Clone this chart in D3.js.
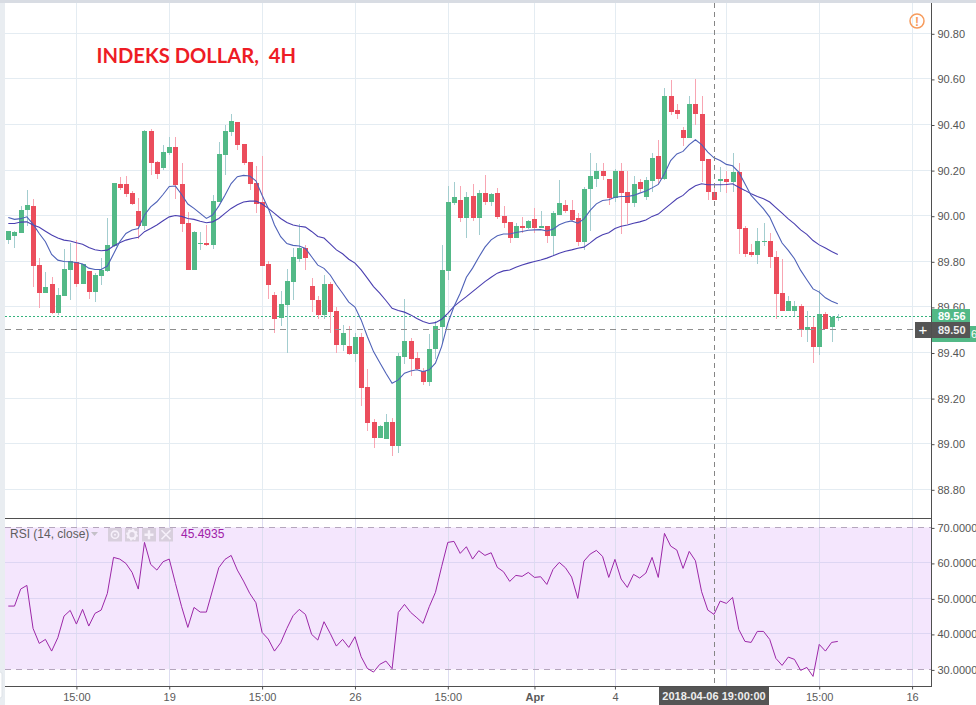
<!DOCTYPE html>
<html><head><meta charset="utf-8">
<style>html,body{margin:0;padding:0;background:#fff;overflow:hidden}svg{display:block}text{font-family:"Liberation Sans",Arial,sans-serif}</style>
<script src="https://cdn.jsdelivr.net/npm/d3@7"></script></head><body><svg id="c" width="976" height="705"></svg>
<script>
const opens=[89.893,89.911,89.924,90.025,90.042,89.783,89.661,89.700,89.573,89.647,89.761,89.796,89.700,89.757,89.665,89.735,89.757,89.867,90.139,90.139,90.099,90.020,89.954,90.371,90.235,90.209,90.275,90.301,90.139,89.968,89.761,89.877,89.880,89.871,90.060,90.266,90.367,90.411,90.314,90.235,90.143,90.060,89.788,89.652,89.551,89.608,89.709,89.810,89.858,89.691,89.630,89.565,89.701,89.583,89.433,89.429,89.394,89.469,89.249,89.096,89.026,89.021,89.096,88.990,89.381,89.451,89.376,89.319,89.271,89.416,89.512,89.758,90.056,90.069,89.990,90.087,89.990,90.100,90.061,90.100,89.999,89.973,89.903,89.955,89.947,89.986,89.947,89.955,89.912,90.001,90.049,90.023,89.988,89.883,90.115,90.163,90.198,90.163,90.076,90.198,90.102,90.054,90.146,90.084,90.150,90.260,90.159,90.527,90.462,90.374,90.339,90.492,90.448,90.247,90.106,90.150,90.163,90.146,90.190,89.944,89.839,89.826,89.887,89.891,89.821,89.663,89.584,89.580,89.606,89.497,89.510,89.422,89.571,89.510,89.552];
const highs=[89.932,89.932,90.042,90.112,90.073,89.814,89.753,89.731,89.682,89.853,89.880,89.893,89.788,89.757,89.748,89.814,89.989,90.143,90.169,90.174,90.108,90.077,90.375,90.380,90.239,90.310,90.345,90.345,90.231,90.016,89.932,89.928,89.959,90.090,90.323,90.397,90.446,90.411,90.314,90.235,90.218,90.261,89.801,89.665,89.669,89.766,89.858,89.963,89.871,89.726,89.647,89.740,89.710,89.600,89.521,89.517,89.486,89.486,89.328,89.109,89.083,89.131,89.113,89.398,89.635,89.464,89.403,89.333,89.482,89.539,89.872,90.131,90.148,90.131,90.105,90.140,90.113,90.179,90.100,90.122,90.043,89.973,89.969,89.995,89.982,90.034,90.021,89.955,90.021,90.155,90.071,90.071,90.014,90.124,90.277,90.233,90.233,90.163,90.207,90.229,90.194,90.176,90.159,90.168,90.277,90.334,90.562,90.593,90.488,90.387,90.523,90.598,90.523,90.247,90.141,90.212,90.194,90.273,90.229,89.957,89.874,89.948,89.970,89.926,89.843,89.808,89.646,89.628,89.611,89.580,89.554,89.672,89.576,89.558,89.567];
const lows=[89.875,89.858,89.924,89.954,89.687,89.595,89.661,89.568,89.564,89.647,89.630,89.687,89.700,89.634,89.621,89.696,89.753,89.862,90.112,90.082,90.046,89.897,89.937,90.178,90.161,90.200,90.266,90.073,89.928,89.761,89.761,89.849,89.867,89.853,90.060,90.178,90.349,90.288,90.222,90.112,90.011,89.779,89.634,89.485,89.516,89.397,89.630,89.796,89.761,89.577,89.546,89.547,89.486,89.398,89.407,89.390,89.359,89.166,89.056,88.982,89.026,89.021,88.947,88.960,89.350,89.297,89.324,89.258,89.254,89.372,89.438,89.719,90.047,89.973,89.903,89.977,89.916,90.047,90.043,89.986,89.947,89.881,89.903,89.925,89.942,89.925,89.947,89.881,89.828,90.001,90.010,89.975,89.869,89.848,89.935,90.124,90.155,90.049,90.062,89.918,89.962,90.036,90.106,90.071,90.106,90.137,90.155,90.440,90.426,90.304,90.339,90.400,90.146,90.071,90.067,90.102,90.098,90.106,89.834,89.817,89.821,89.786,89.869,89.769,89.545,89.584,89.584,89.558,89.470,89.444,89.356,89.391,89.505,89.444,89.540];
const closes=[89.932,89.928,90.025,90.046,89.779,89.661,89.687,89.573,89.652,89.766,89.801,89.700,89.788,89.665,89.739,89.761,89.871,90.143,90.121,90.095,90.051,89.954,90.371,90.231,90.182,90.279,90.301,90.134,89.963,89.761,89.928,89.880,89.871,90.064,90.270,90.371,90.415,90.310,90.231,90.139,90.051,89.779,89.696,89.546,89.612,89.713,89.818,89.858,89.814,89.630,89.564,89.701,89.578,89.433,89.486,89.394,89.469,89.245,89.091,89.026,89.078,89.096,88.990,89.385,89.451,89.372,89.328,89.271,89.416,89.517,89.762,90.061,90.083,89.990,90.083,89.990,90.100,90.061,90.096,89.995,89.969,89.903,89.955,89.947,89.977,89.947,89.955,89.912,90.012,90.054,90.019,89.983,89.883,90.119,90.172,90.198,90.172,90.076,90.198,90.098,90.054,90.141,90.115,90.155,90.255,90.159,90.527,90.457,90.444,90.339,90.492,90.444,90.242,90.102,90.067,90.163,90.146,90.190,89.940,89.834,89.826,89.891,89.891,89.817,89.655,89.584,89.624,89.606,89.497,89.514,89.422,89.567,89.505,89.554,89.555];
const maFast=[89.992,89.984,89.987,89.995,89.963,89.922,89.886,89.830,89.805,89.799,89.798,89.795,89.788,89.770,89.764,89.764,89.779,89.832,89.886,89.922,89.937,89.944,90.003,90.039,90.061,90.093,90.128,90.130,90.093,90.051,90.032,90.010,89.988,90.003,90.042,90.090,90.141,90.171,90.177,90.174,90.153,90.090,90.032,89.959,89.908,89.878,89.870,89.867,89.856,89.820,89.783,89.769,89.740,89.697,89.660,89.621,89.599,89.543,89.470,89.404,89.356,89.309,89.265,89.280,89.309,89.319,89.324,89.316,89.324,89.353,89.426,89.528,89.602,89.660,89.730,89.770,89.818,89.862,89.894,89.912,89.920,89.920,89.926,89.931,89.936,89.938,89.939,89.933,89.941,89.960,89.971,89.977,89.967,89.986,90.023,90.052,90.067,90.070,90.081,90.084,90.084,90.089,90.099,90.108,90.122,90.137,90.184,90.242,90.271,90.282,90.312,90.333,90.312,90.279,90.254,90.242,90.225,90.219,90.191,90.140,90.089,90.060,90.030,89.994,89.935,89.880,89.848,89.811,89.760,89.719,89.679,89.665,89.640,89.625,89.614];
const maSlow=[89.966,89.966,89.972,89.973,89.959,89.949,89.932,89.915,89.902,89.893,89.889,89.881,89.875,89.861,89.851,89.846,89.849,89.867,89.881,89.893,89.900,89.905,89.930,89.944,89.959,89.978,89.995,90.001,89.997,89.988,89.984,89.976,89.969,89.973,89.988,90.010,90.032,90.048,90.060,90.064,90.064,90.051,90.032,90.010,89.988,89.970,89.959,89.954,89.950,89.931,89.909,89.902,89.876,89.850,89.833,89.809,89.792,89.762,89.726,89.689,89.660,89.628,89.594,89.584,89.577,89.565,89.549,89.536,89.527,89.531,89.546,89.572,89.602,89.624,89.645,89.667,89.689,89.711,89.730,89.748,89.758,89.762,89.774,89.784,89.792,89.799,89.806,89.814,89.824,89.835,89.844,89.850,89.857,89.862,89.881,89.902,89.916,89.925,89.944,89.954,89.959,89.967,89.973,89.981,89.997,90.007,90.030,90.052,90.074,90.089,90.114,90.131,90.140,90.136,90.136,90.136,90.137,90.140,90.125,90.111,90.096,90.084,90.074,90.060,90.035,90.011,89.986,89.964,89.938,89.918,89.891,89.872,89.858,89.843,89.830];
const rsi=[47.84,47.84,52.63,53.66,41.55,37.32,38.45,35.16,38.92,45.02,46.62,42.77,46.90,42.21,45.77,46.71,51.41,61.55,61.08,59.86,57.32,52.63,65.77,59.58,57.98,60.33,61.08,54.22,47.65,41.83,47.46,46.15,46.15,52.35,58.64,60.99,62.11,57.98,54.88,51.41,48.78,40.42,38.54,35.16,37.51,41.55,45.12,46.90,45.49,39.86,38.26,43.43,40.14,36.57,38.45,36.20,39.20,33.57,30.28,29.25,31.41,32.35,30.19,46.06,48.31,46.06,44.55,42.96,47.65,51.69,58.92,65.77,66.06,62.68,64.55,61.08,63.43,62.11,62.86,58.73,57.51,54.79,56.48,56.20,57.32,55.91,56.10,53.94,58.17,60.14,58.64,56.01,50.00,60.52,62.49,63.52,61.83,55.91,60.99,55.45,53.10,56.76,55.73,57.14,61.55,55.91,68.31,64.74,63.61,58.45,63.24,60.61,51.88,46.71,45.49,49.25,48.59,50.28,41.27,37.89,37.60,40.70,40.70,38.45,33.10,31.13,33.47,32.82,29.72,30.56,28.03,37.04,35.16,37.60,37.89];
const priceTicks=[88.8,89.0,89.2,89.4,89.6,89.8,90.0,90.2,90.4,90.6,90.8];
const rsiTicks=[30,40,50,60,70];
const timeTickIdx=[11,26,41,56,71,85,98,116,131,146];
const timeTickLabels=["15:00","19","15:00","26","15:00","Apr","4","","15:00","16"];
const boldLabels=["Apr"];
const crossIdx=114, crossPrice=89.50, lastPrice=89.56, rsiRef=45.4935;
const crossTime="2018-04-06 19:00:00";
const titleText="INDEKS DOLLAR,  4H";

const svg=d3.select("#c");
const paneL=5,paneR=931;
const x=d3.scaleLinear().domain([0,134]).range([8.3,837.8]);
const y=d3.scaleLinear().domain([88.8,90.8]).range([489.3,33.3]);
const yR=d3.scaleLinear().domain([30,70]).range([669.4,527.4]);
const px=v=>Math.round(x(v));
const crisp=v=>Math.floor(v)+.5;
// chrome
svg.append("rect").attr("x",0).attr("y",0).attr("width",976).attr("height",705).attr("fill","#fff");
svg.append("rect").attr("x",0).attr("y",0).attr("width",5).attr("height",705).attr("fill","#e9edf1");
svg.append("rect").attr("x",-3).attr("y",672).attr("width",5).attr("height",26).attr("rx",2).attr("fill","#fff").attr("stroke","#dfe3e8");
svg.append("rect").attr("x",0).attr("y",0).attr("width",976).attr("height",3).attr("fill","#d8dce3");
// RSI band
svg.append("rect").attr("x",paneL).attr("y",yR(70)).attr("width",paneR-paneL).attr("height",yR(30)-yR(70)).attr("fill","#f4e6fd");
// grid
svg.append("g").selectAll("line").data(priceTicks).join("line")
 .attr("x1",paneL).attr("x2",paneR).attr("y1",d=>crisp(y(d))).attr("y2",d=>crisp(y(d))).attr("stroke","#e4ecf2");
svg.append("g").selectAll("line").data(timeTickIdx).join("line")
 .attr("x1",d=>px(d)+.5).attr("x2",d=>px(d)+.5).attr("y1",3).attr("y2",519).attr("stroke","#e4ecf2");
svg.append("g").selectAll("line").data(timeTickIdx).join("line")
 .attr("x1",d=>px(d)+.5).attr("x2",d=>px(d)+.5).attr("y1",519).attr("y2",686).attr("stroke","#ddddf0");
svg.append("g").selectAll("line").data(rsiTicks.slice(1,4)).join("line")
 .attr("x1",paneL).attr("x2",paneR).attr("y1",d=>crisp(yR(d))).attr("y2",d=>crisp(yR(d))).attr("stroke","#ddd6f3");
// lines levels
svg.append("line").attr("x1",paneL).attr("x2",paneR).attr("y1",crisp(y(lastPrice))).attr("y2",crisp(y(lastPrice))).attr("stroke","#35b37e").attr("stroke-dasharray","2,2");
// candles
const idx=d3.range(opens.length);
const col=i=>closes[i]>=opens[i];
svg.append("g").attr("shape-rendering","crispEdges").selectAll("rect").data(idx).join("rect")
 .attr("x",i=>px(i)).attr("width",1).attr("y",i=>y(highs[i])).attr("height",i=>y(lows[i])-y(highs[i]))
 .attr("fill",i=>col(i)?"#a3cdcf":"#f8a5b2");
svg.append("g").attr("shape-rendering","crispEdges").selectAll("rect").data(idx).join("rect")
 .attr("x",i=>px(i)-2).attr("width",5)
 .attr("y",i=>Math.round(y(Math.max(opens[i],closes[i]))))
 .attr("height",i=>Math.max(1,Math.round(y(Math.min(opens[i],closes[i])))-Math.round(y(Math.max(opens[i],closes[i])))))
 .attr("fill",i=>col(i)?"#53b987":"#eb4d5c");
// MAs
const lineP=d3.line().x((d,i)=>x(i)).y(d=>y(d));
svg.append("path").attr("d",lineP(maSlow)).attr("fill","none").attr("stroke","#4a3fb0").attr("stroke-width",1.1);
svg.append("path").attr("d",lineP(maFast)).attr("fill","none").attr("stroke","#4f62b8").attr("stroke-width",1.1);
// RSI
svg.append("g").selectAll("line").data([70,30]).join("line")
 .attr("x1",paneL).attr("x2",paneR).attr("y1",d=>crisp(yR(d))).attr("y2",d=>crisp(yR(d))).attr("stroke","#b5a6bd").attr("stroke-dasharray","6,5");
svg.append("path").attr("d",d3.line().x((d,i)=>x(i)).y(d=>yR(d))(rsi)).attr("fill","none").attr("stroke","#9c27a8").attr("stroke-width",1);
// crosshair
svg.append("line").attr("x1",px(crossIdx)+.5).attr("x2",px(crossIdx)+.5).attr("y1",3).attr("y2",686).attr("stroke","#858585").attr("stroke-dasharray","5,4");
svg.append("line").attr("x1",paneL).attr("x2",915).attr("y1",crisp(y(crossPrice))).attr("y2",crisp(y(crossPrice))).attr("stroke","#8f8f8f").attr("stroke-dasharray","6,5");
// frame
svg.append("line").attr("x1",paneL).attr("x2",932).attr("y1",518.5).attr("y2",518.5).attr("stroke","#4f4f4f");
svg.append("line").attr("x1",paneL).attr("x2",932).attr("y1",686.5).attr("y2",686.5).attr("stroke","#4f4f4f");
svg.append("line").attr("x1",931.5).attr("x2",931.5).attr("y1",3).attr("y2",687).attr("stroke","#4f4f4f");
// axes
const axisG=svg.append("g").attr("transform","translate(931.5,0)");
axisG.call(d3.axisRight(d3.scaleLinear().domain([88.8,90.8]).range([489.8,33.8])).tickValues(priceTicks).tickSize(3).tickPadding(3).tickFormat(d3.format(".2f")));
axisG.select(".domain").remove();
const rsiG=svg.append("g").attr("transform","translate(931.5,0)");
rsiG.call(d3.axisRight(d3.scaleLinear().domain([30,70]).range([669.9,527.9])).tickValues(rsiTicks).tickSize(3).tickPadding(3).tickFormat(d3.format(".4f")));
rsiG.select(".domain").remove();
[axisG,rsiG].forEach(g=>{g.selectAll("text").attr("font-size",11).attr("fill","#555").attr("font-family","Liberation Sans");g.selectAll("line").attr("stroke","#4f4f4f");});
const timeG=svg.append("g").attr("transform","translate(0,686.5)");
timeG.call(d3.axisBottom(d3.scaleLinear().domain([0,134]).range([x(0),x(134)])).tickValues(timeTickIdx).tickSize(3).tickPadding(4).tickFormat((d,i)=>timeTickLabels[i]));
timeG.select(".domain").remove();
timeG.selectAll("line").attr("stroke","#4f4f4f");
timeG.selectAll("text").attr("font-size",11).attr("fill","#5a5a5a").attr("font-family","Liberation Sans")
 .attr("font-weight",function(){return boldLabels.includes(this.textContent)?"bold":"normal";});
// time label
svg.append("rect").attr("x",659).attr("y",687).attr("width",110).attr("height",18).attr("fill","#555");
svg.append("text").attr("x",714).attr("y",700).attr("text-anchor","middle").attr("font-size",11).attr("font-weight","bold").attr("fill","#eee").text(crossTime);
// price labels
svg.append("rect").attr("x",932).attr("y",326).attr("width",44).attr("height",16).attr("fill","#53b987");
svg.append("text").attr("x",971).attr("y",338).attr("font-size",11).attr("fill","#fff").text(lastPrice.toFixed(2).slice(-1));
svg.append("rect").attr("x",932).attr("y",309).attr("width",38).attr("height",13).attr("fill","#53b987");
svg.append("text").attr("x",938).attr("y",320).attr("font-size",11).attr("font-weight","bold").attr("fill","#fff").text(lastPrice.toFixed(2));
svg.append("rect").attr("x",932).attr("y",322).attr("width",38).attr("height",16).attr("fill","#555");
svg.append("text").attr("x",938).attr("y",334).attr("font-size",11).attr("font-weight","bold").attr("fill","#eee").text(crossPrice.toFixed(2));
svg.append("rect").attr("x",915).attr("y",322).attr("width",16).attr("height",16).attr("fill","#555");
svg.append("text").attr("x",923).attr("y",335).attr("text-anchor","middle").attr("font-size",15).attr("fill","#fff").text("+");
// warning icon
svg.append("circle").attr("cx",917).attr("cy",21).attr("r",7).attr("fill","none").attr("stroke","#f79b5c").attr("stroke-width",1.5);
svg.append("text").attr("x",917).attr("y",25.5).attr("text-anchor","middle").attr("font-size",12).attr("font-weight","bold").attr("fill","#f79b5c").text("!");
// title
svg.append("text").attr("x",96.5).attr("y",63).attr("font-size",21).attr("font-weight","bold").style("font-family","Lato").attr("fill","#ee1c25")
 .attr("textLength",199.5).attr("lengthAdjust","spacingAndGlyphs").attr("xml:space","preserve").style("white-space","pre").text(titleText);
// RSI legend
svg.append("text").attr("x",10).attr("y",538).attr("font-size",12).attr("fill","#5e5e5e").text("RSI (14, close)");
svg.append("path").attr("d",d3.line()([[91,532],[98,532],[94.5,536]])).attr("fill","#c4c0c8");
const btnX=[108,125,142,159];
svg.append("g").selectAll("rect").data(btnX).join("rect").attr("x",d=>d).attr("y",528).attr("width",14).attr("height",13.5).attr("fill","#d8cfdd");
const iconC="#f6f0fa", cy=534.7;
svg.append("circle").attr("cx",btnX[0]+7).attr("cy",cy).attr("r",3.6).attr("fill","none").attr("stroke",iconC).attr("stroke-width",1.6);
svg.append("circle").attr("cx",btnX[0]+7).attr("cy",cy).attr("r",1).attr("fill",iconC);
svg.append("circle").attr("cx",btnX[1]+7).attr("cy",cy).attr("r",3.8).attr("fill","none").attr("stroke",iconC).attr("stroke-width",2.4);
svg.append("circle").attr("cx",btnX[1]+7).attr("cy",cy).attr("r",5.2).attr("fill","none").attr("stroke",iconC).attr("stroke-width",1.4).attr("stroke-dasharray","2,2");
svg.append("path").attr("d",`M${btnX[2]+2.5},${cy}H${btnX[2]+11.5}M${btnX[2]+7},${cy-4.5}V${cy+4.5}`).attr("stroke",iconC).attr("stroke-width",2.4);
svg.append("path").attr("d",`M${btnX[3]+2.5},${cy-4.5}L${btnX[3]+11.5},${cy+4.5}M${btnX[3]+11.5},${cy-4.5}L${btnX[3]+2.5},${cy+4.5}`).attr("stroke",iconC).attr("stroke-width",1.6);
svg.append("text").attr("x",181).attr("y",538).attr("font-size",12).attr("fill","#a020a8").text(rsiRef.toFixed(4));
</script></body></html>
